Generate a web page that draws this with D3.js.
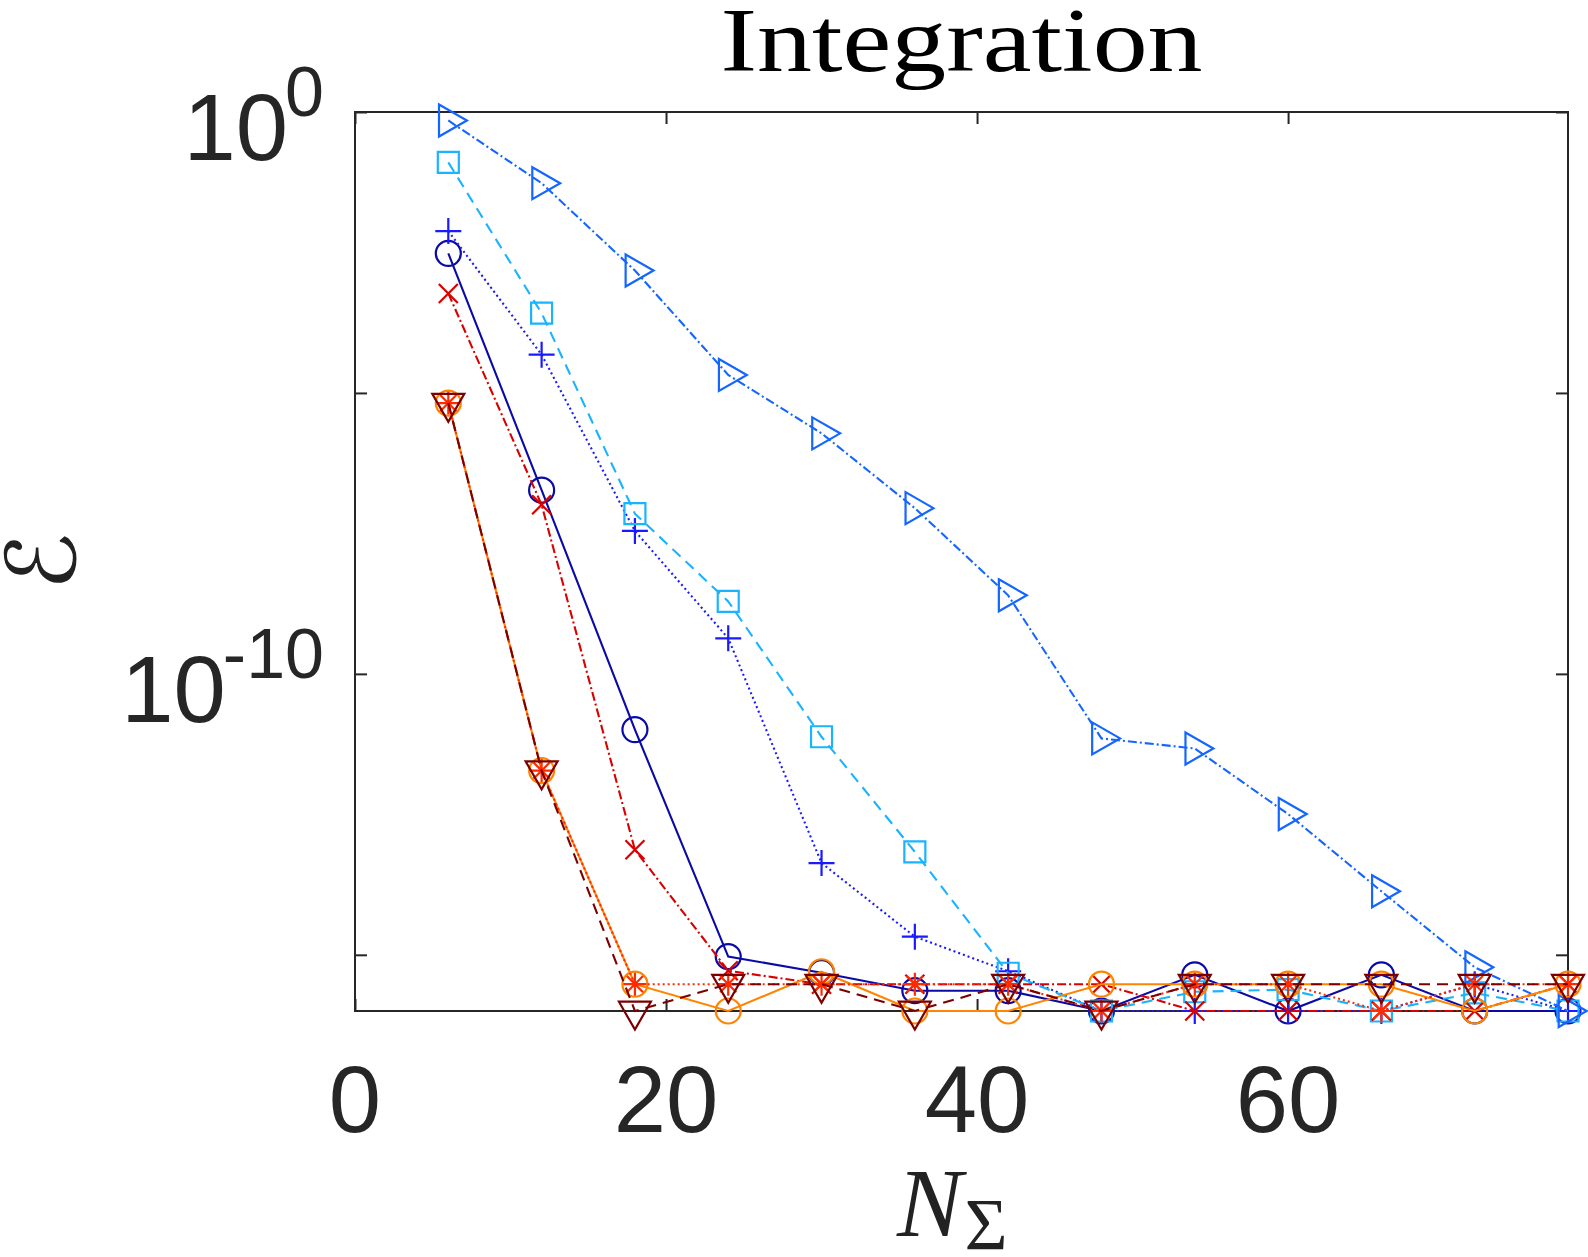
<!DOCTYPE html>
<html>
<head>
<meta charset="utf-8">
<script src="https://cdn.jsdelivr.net/npm/d3@7"></script>
<style>
  body { margin: 0; background: #fff; }
  svg { display: block; }
</style>
</head>
<body>
<div id="chart"></div>
<script>
// N_Sigma values (x)
const nSigma = [6, 12, 18, 24, 30, 36, 42, 48, 54, 60, 66, 72, 78];

// error values, one array per series
const errNavyCircle = [3.05e-3, 1.86e-7, 1.02e-11, 9.3e-16, 4.8e-16, 2.3e-16, 2.3e-16, 1e-16, 4.4e-16, 1e-16, 4.4e-16, 1e-16, 1e-16];
const errBluePlus = [7.6e-3, 4.8e-5, 3.5e-8, 4.3e-10, 4.3e-14, 2.1e-15, 5.1e-16, 1e-16, 1e-16, 1e-16, 1e-16, 3.0e-16, 1e-16];
const errCyanSquare = [1.27e-1, 2.63e-4, 7.1e-8, 1.95e-9, 7.6e-12, 6.8e-14, 4.7e-16, 1e-16, 2.2e-16, 2.4e-16, 1e-16, 2.1e-16, 1e-16];
const errBlueTriangle = [7.06e-1, 5.41e-2, 1.51e-3, 2.09e-5, 1.91e-6, 8.9e-8, 2.5e-9, 7.1e-12, 4.7e-12, 3.2e-13, 1.35e-14, 6.0e-16, 1e-16];
const errRedCross = [5.9e-4, 1.02e-7, 7.4e-14, 5.2e-16, 3.0e-16, 3.0e-16, 3.0e-16, 3.0e-16, 1e-16, 1e-16, 1e-16, 1e-16, 3.0e-16];
const errOrangeCircle = [6.6e-6, 1.9e-12, 3.0e-16, 1e-16, 5.0e-16, 1e-16, 1e-16, 3.0e-16, 3.0e-16, 3.0e-16, 3.0e-16, 1e-16, 3.0e-16];
const errRedStar = [6.6e-6, 1.9e-12, 3.0e-16, 3.0e-16, 3.0e-16, 3.0e-16, 3.0e-16, 1e-16, 3.0e-16, 3.0e-16, 1e-16, 3.0e-16, 3.0e-16];
const errMaroonTriangle = [6.6e-6, 1.9e-12, 1e-16, 3.0e-16, 3.0e-16, 1e-16, 3.0e-16, 1e-16, 3.0e-16, 3.0e-16, 3.0e-16, 3.0e-16, 3.0e-16];

// axis ticks
const xTickValues = [0, 20, 40, 60];
const yTickValues = [1e0, 1e-5, 1e-10, 1e-15];
const yTickLabels = [{ v: 1e0, exp: "0" }, { v: 1e-10, exp: "-10" }];

const width = 1588;
const height = 1257;
const plot = { left: 355, right: 1568, top: 112, bottom: 1011 };
const axisColor = "#262626";

const svg = d3.select("#chart").append("svg")
  .attr("width", width)
  .attr("height", height);

const x = d3.scaleLinear().domain([0, 78]).range([plot.left, plot.right]);
const y = d3.scaleLog().domain([1e-16, 1]).range([plot.bottom, plot.top]);

// marker shapes (MATLAB style, hollow)
const markers = {
  circle: "M12.5,0A12.5,12.5 0 1 1 -12.5,0A12.5,12.5 0 1 1 12.5,0Z",
  square: "M-10.5,-10.5H10.5V10.5H-10.5Z",
  plus: "M-13,0H13M0,-13V13",
  cross: "M-9.5,-9.5L9.5,9.5M-9.5,9.5L9.5,-9.5",
  star: "M-11.5,0H11.5M0,-11.5V11.5M-8.1,-8.1L8.1,8.1M-8.1,8.1L8.1,-8.1",
  triRight: "M-9.3,-16L18.6,0L-9.3,16Z",
  triDown: "M-16,-9.3L16,-9.3L0,18.6Z"
};

const series = [
  { values: errNavyCircle, color: "#0a0aa6", dash: null, marker: "circle" },
  { values: errBluePlus, color: "#1a1aff", dash: "2,3", marker: "plus" },
  { values: errCyanSquare, color: "#19b3ff", dash: "11,7", marker: "square" },
  { values: errBlueTriangle, color: "#1466ff", dash: "9,3,2,3", marker: "triRight" },
  { values: errRedCross, color: "#d90000", dash: "9,3,2,3", marker: "cross" },
  { values: errOrangeCircle, color: "#ff8400", dash: null, marker: "circle" },
  { values: errRedStar, color: "#ff2a00", dash: "2,3", marker: "star" },
  { values: errMaroonTriangle, color: "#7d0000", dash: "11,7", marker: "triDown" }
];

const line = d3.line()
  .x(d => x(d[0]))
  .y(d => y(d[1]));

// Axes box and ticks (inward, on all four sides)
svg.append("rect")
  .attr("x", plot.left)
  .attr("y", plot.top)
  .attr("width", plot.right - plot.left)
  .attr("height", plot.bottom - plot.top)
  .style("fill", "none")
  .style("stroke", axisColor)
  .style("stroke-width", 2);

const tickLen = 12;
const axes = [
  { gen: d3.axisBottom(x).tickValues(xTickValues), t: `translate(0,${plot.bottom})` },
  { gen: d3.axisTop(x).tickValues(xTickValues), t: `translate(0,${plot.top})` },
  { gen: d3.axisLeft(y).tickValues(yTickValues), t: `translate(${plot.left},0)` },
  { gen: d3.axisRight(y).tickValues(yTickValues), t: `translate(${plot.right},0)` }
];
axes.forEach(({ gen, t }) => {
  const g = svg.append("g")
    .attr("transform", t)
    .call(gen.tickSizeInner(-tickLen).tickSizeOuter(0).tickFormat(""));
  g.select(".domain").remove();
  g.selectAll(".tick line").style("stroke", axisColor).style("stroke-width", 2);
});

// x tick labels
svg.append("g").selectAll("text")
  .data(xTickValues)
  .join("text")
  .attr("x", d => x(d))
  .attr("y", 1132)
  .style("font-family", "'Liberation Sans', Arial, sans-serif")
  .style("font-size", "94px")
  .style("fill", axisColor)
  .style("text-anchor", "middle")
  .text(d => d);

// y tick labels 10^k
const yLab = svg.append("g").selectAll("text")
  .data(yTickLabels)
  .join("text")
  .attr("x", 324)
  .attr("y", d => y(d.v) + 48)
  .style("font-family", "'Liberation Sans', Arial, sans-serif")
  .style("fill", axisColor)
  .style("text-anchor", "end");
yLab.append("tspan").style("font-size", "94px").text("10");
yLab.append("tspan")
  .attr("dx", -3)
  .attr("dy", -44)
  .style("font-size", "70px")
  .text(d => d.exp);

// Plot lines and markers
const plotArea = svg.append("g");
series.forEach(s => {
  const pts = nSigma.map((n, i) => [n, s.values[i]]);
  plotArea.append("path")
    .datum(pts)
    .attr("d", line)
    .style("fill", "none")
    .style("stroke", s.color)
    .style("stroke-width", 2.1)
    .style("stroke-dasharray", s.dash);

  plotArea.append("g").selectAll("path")
    .data(pts)
    .join("path")
    .attr("transform", d => `translate(${x(d[0])},${y(d[1])})`)
    .attr("d", markers[s.marker])
    .style("fill", "none")
    .style("stroke", s.color)
    .style("stroke-width", 2.2);
});

// Title
svg.append("text")
  .attr("x", (plot.left + plot.right) / 2)
  .attr("y", 71)
  .attr("textLength", 482)
  .attr("lengthAdjust", "spacingAndGlyphs")
  .style("font-family", "'Liberation Serif', 'DejaVu Serif', serif")
  .style("font-size", "90px")
  .style("fill", "#000")
  .style("text-anchor", "middle")
  .text("Integration");

// y label (calligraphic E)
svg.append("text")
  .attr("transform", `translate(42,${(plot.top + plot.bottom) / 2}) rotate(-90)`)
  .style("font-family", "'DejaVu Serif', 'DejaVu Sans', serif")
  .style("font-size", "96px")
  .style("fill", "#222")
  .style("text-anchor", "middle")
  .attr("dy", "0.34em")
  .text("ℰ");

// x label N_Sigma
const xl = svg.append("text")
  .attr("x", 897)
  .attr("y", 1236)
  .style("font-family", "'Liberation Serif', 'DejaVu Serif', serif")
  .style("fill", "#222");
xl.append("tspan")
  .style("font-style", "italic")
  .style("font-size", "98px")
  .text("N");
xl.append("tspan")
  .attr("dx", 2)
  .attr("dy", 14)
  .style("font-size", "74px")
  .text("Σ");
</script>
</body>
</html>
